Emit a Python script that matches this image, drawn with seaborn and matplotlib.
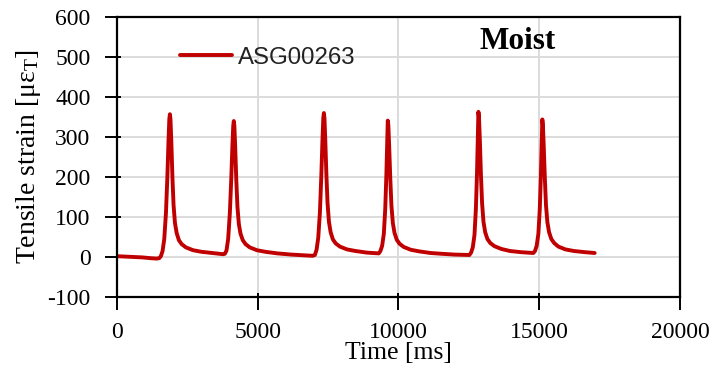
import matplotlib
matplotlib.use("Agg")
import matplotlib.pyplot as plt
from matplotlib.ticker import FixedLocator
import seaborn as sns
import pandas as pd

# Strain gauge ASG00263, moist condition: six load pulses
time_ms = [
    0, 300, 600, 900, 1200, 1400, 1500,
    1560, 1620, 1680, 1740, 1790, 1830, 1860, 1880, 1900, 1930, 1970, 2010,
    2060, 2120, 2200, 2300, 2450, 2700, 3000, 3400, 3770,
    3830, 3890, 3950, 4010, 4060, 4100, 4130, 4150, 4170, 4200, 4240, 4280,
    4330, 4390, 4470, 4570, 4720, 4970, 5270, 5700, 6200, 6700, 6950,
    7030, 7090, 7150, 7210, 7260, 7300, 7330, 7350, 7370, 7400, 7440, 7480,
    7530, 7590, 7670, 7770, 7920, 8170, 8470, 8870, 9300,
    9360, 9420, 9480, 9530, 9570, 9600, 9620, 9640, 9670, 9710, 9750,
    9800, 9860, 9940, 10040, 10190, 10440, 10740, 11140, 11540, 12000, 12520,
    12580, 12640, 12700, 12750, 12790, 12820, 12840, 12860, 12890, 12930, 12970,
    13020, 13080, 13160, 13260, 13410, 13660, 13960, 14360, 14790,
    14850, 14910, 14970, 15020, 15060, 15090, 15110, 15130, 15160, 15200, 15240,
    15290, 15350, 15430, 15530, 15680, 15930, 16230, 16630, 16970,
]
strain_ue = [
    2, 1, 0, -1, -3, -4, -3,
    2, 15, 45, 110, 200, 290, 345, 357, 345, 290, 200, 130,
    85, 60, 42, 32, 24, 17, 13, 10, 7,
    8, 16, 45, 110, 195, 277, 328, 340, 328, 275, 190, 125,
    82, 58, 42, 32, 24, 17, 13, 9, 6, 4, 3,
    5, 18, 48, 112, 205, 293, 348, 360, 348, 293, 205, 135,
    88, 62, 44, 34, 26, 19, 15, 11, 9,
    15, 28, 58, 120, 205, 290, 341, 330, 276, 195, 128,
    85, 60, 43, 33, 25, 18, 14, 10, 8, 6, 5,
    11, 24, 55, 120, 210, 300, 363, 350, 295, 205, 135,
    88, 62, 45, 35, 27, 20, 15, 12, 10,
    15, 28, 58, 120, 205, 290, 344, 332, 278, 197, 130,
    87, 62, 45, 35, 26, 19, 15, 12, 10,
]
series_name = "ASG00263"
condition = "Moist"
x_ticks = [0, 5000, 10000, 15000, 20000]
y_ticks = [-100, 0, 100, 200, 300, 400, 500, 600]

df = pd.DataFrame({"Time": time_ms, "Strain": strain_ue})

sns.set_theme(style="whitegrid")
plt.rcParams["font.family"] = ["Liberation Serif", "DejaVu Serif"]
plt.rcParams["mathtext.fontset"] = "custom"
plt.rcParams["mathtext.rm"] = "Liberation Serif"
plt.rcParams["mathtext.it"] = "Liberation Serif:italic"

fig = plt.figure(figsize=(7.15, 3.71), dpi=100)
ax = fig.add_axes([0.1636, 0.1995, 0.951 - 0.1636, 0.954 - 0.1995])

sns.lineplot(data=df, x="Time", y="Strain", ax=ax, color="#C00000",
             linewidth=2.8, estimator=None, label=series_name)

ax.set_xlim(0, 20000)
ax.set_ylim(-100, 600)
ax.set_xticks(x_ticks)
ax.set_yticks(y_ticks)
ax.set_xticklabels([str(v) for v in x_ticks])
ax.set_yticklabels([str(v) for v in y_ticks])

ax.grid(True, which="major", color="#d9d9d9", linewidth=1.3)
for s in ax.spines.values():
    s.set_visible(True)
    s.set_color("black")
    s.set_linewidth(1.6)

# outward major ticks with a short inward stub at the same positions
ax.tick_params(axis="both", which="major", direction="out", length=9,
               width=1.4, color="black", labelsize=17, labelcolor="black",
               bottom=True, left=True)
ax.tick_params(axis="y", which="major", pad=10)
ax.tick_params(axis="x", which="major", pad=9)
ax.xaxis.set_minor_locator(FixedLocator(x_ticks))
ax.yaxis.set_minor_locator(FixedLocator(y_ticks))
ax.xaxis.remove_overlapping_locs = False
ax.yaxis.remove_overlapping_locs = False
ax.tick_params(axis="both", which="minor", direction="in", length=3,
               width=1.4, color="black", bottom=True, left=True)

ax.set_xlabel("Time [ms]", fontsize=18.5, color="black", labelpad=-1)
ax.set_ylabel("Tensile strain [με$_{\\mathrm{T}}$]", fontsize=20,
              color="black", labelpad=3)

leg = ax.legend(loc="center left", bbox_to_anchor=(0.112, 0.855),
                frameon=False, borderpad=0, borderaxespad=0,
                handlelength=2.15, handletextpad=0.25,
                prop={"family": "Liberation Sans", "size": 17.3})
for t in leg.get_texts():
    t.set_color("#222222")

ax.text(0.712, 0.886, condition, transform=ax.transAxes, ha="center",
        va="baseline", fontsize=22.5, fontweight="bold", color="black")

fig.savefig("out.png", dpi=100)
